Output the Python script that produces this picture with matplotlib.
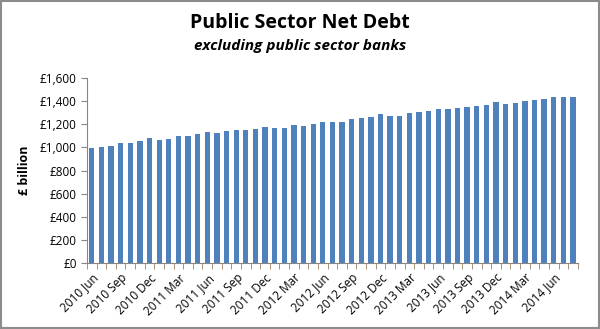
import matplotlib

matplotlib.use("Agg")
import matplotlib.pyplot as plt
from matplotlib.patches import Rectangle

plt.rcParams["font.family"] = ["Open Sans", "DejaVu Sans"]

# Months Jun 2010 .. Aug 2014
years = [2010] * 7 + [2011] * 12 + [2012] * 12 + [2013] * 12 + [2014] * 8
months = (["Jun", "Jul", "Aug", "Sep", "Oct", "Nov", "Dec"]
          + ["Jan", "Feb", "Mar", "Apr", "May", "Jun", "Jul", "Aug", "Sep", "Oct", "Nov", "Dec"] * 3
          + ["Jan", "Feb", "Mar", "Apr", "May", "Jun", "Jul", "Aug"])
labels = [f"{y} {m}" for y, m in zip(years, months)]

# Public sector net debt excl. banks, £ billion
debt = [996, 1000, 1010, 1035, 1038, 1052, 1078, 1068, 1075, 1098, 1100, 1115,
        1132, 1127, 1142, 1150, 1147, 1160, 1180, 1165, 1170, 1190,
        1189, 1201, 1221, 1221, 1224, 1242, 1250, 1265, 1288, 1268, 1274, 1299,
        1302, 1314, 1331, 1331, 1337, 1352, 1354, 1369, 1389, 1378, 1383, 1404,
        1406, 1418, 1438, 1433, 1433]

x = list(range(len(debt)))

fig = plt.figure(figsize=(6.0, 3.29), dpi=100)
ax = fig.add_axes([0.145, 0.2, 0.818, 0.563])
ax.bar(x, debt, width=0.55, color="#4F81BD")

ax.set_xlim(-0.5, len(debt) - 0.5)
ax.set_ylim(0, 1600)
ax.set_yticks(range(0, 1601, 200))
ax.set_yticklabels([f"£{v:,}" for v in range(0, 1601, 200)], fontsize=8.5)

ax.set_xticks(x[::3])
ax.set_xticklabels(labels[::3], rotation=45, ha="right", rotation_mode="anchor", fontsize=8.5)
ax.set_xticks([i - 0.5 for i in range(len(debt) + 1)], minor=True)
ax.tick_params(axis="x", which="major", length=0, pad=6)
ax.tick_params(axis="x", which="minor", length=4, color="#a08060", direction="out")
ax.tick_params(axis="y", length=4, color="#868686", direction="out")

for side in ["top", "right"]:
    ax.spines[side].set_visible(False)
for side in ["left", "bottom"]:
    ax.spines[side].set_color("#868686")

ax.set_ylabel("£ billion", fontsize=9, fontweight="bold", labelpad=6)

fig.text(0.5, 0.93, "Public Sector Net Debt", ha="center", va="center",
         fontsize=14, fontweight="bold")
fig.text(0.5, 0.86, "excluding public sector banks", ha="center", va="center",
         fontsize=11, fontweight="bold", style="italic")

fig.patches.append(Rectangle((0.002, 0.003), 0.996, 0.994, transform=fig.transFigure,
                             fill=False, edgecolor="#8c8c8c", linewidth=1.5))

fig.savefig("out.png", dpi=100)
